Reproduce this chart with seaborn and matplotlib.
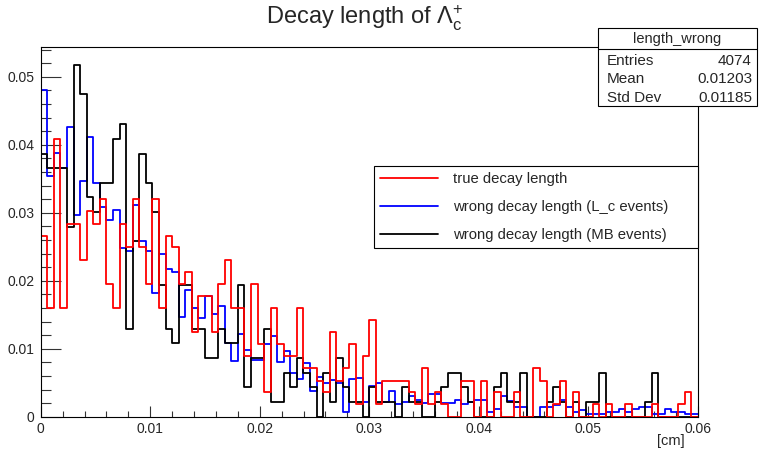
import numpy as np
import pandas as pd
import matplotlib
matplotlib.use('Agg')
import matplotlib.pyplot as plt
from matplotlib.lines import Line2D
from matplotlib.patches import Rectangle
from matplotlib.ticker import MultipleLocator, FuncFormatter
import seaborn as sns

# bin contents (normalised), 100 bins on [0, 0.06] cm
x_lo, x_hi, n_bins = 0.0, 0.06, 100

true_len = [0.0266, 0.0160, 0.0408, 0.0160, 0.0284, 0.0284, 0.0230, 0.0302, 0.0284, 0.0320,
            0.0195, 0.0160, 0.0284, 0.0249, 0.0320, 0.0249, 0.0195, 0.0320, 0.0160, 0.0266,
            0.0249, 0.0195, 0.0213, 0.0124, 0.0178, 0.0178, 0.0124, 0.0195, 0.0230, 0.0160,
            0.0160, 0.0089, 0.0195, 0.0107, 0.0036, 0.0160, 0.0107, 0.0089, 0.0089, 0.0160,
            0.0071, 0.0071, 0.0053, 0.0036, 0.0124, 0.0053, 0.0071, 0.0107, 0.0018, 0.0089,
            0.0142, 0.0018, 0.0053, 0.0053, 0.0053, 0.0053, 0.0036, 0.0018, 0.0071, 0.0018,
            0.0036, 0.0018, 0.0, 0.0, 0.0053, 0.0053, 0.0, 0.0053, 0.0, 0.0036,
            0.0, 0.0, 0.0036, 0.0, 0.0, 0.0071, 0.0053, 0.0, 0.0018, 0.0053,
            0.0, 0.0036, 0.0, 0.0, 0.0018, 0.0, 0.0018, 0.0, 0.0, 0.0018,
            0.0, 0.0, 0.0, 0.0018, 0.0, 0.0, 0.0, 0.0018, 0.0036, 0.0]

wrong_lc = [0.0480, 0.0354, 0.0388, 0.0366, 0.0426, 0.0297, 0.0346, 0.0412, 0.0343, 0.0309,
            0.0289, 0.0304, 0.0248, 0.0244, 0.0312, 0.0259, 0.0244, 0.0182, 0.0240, 0.0217,
            0.0213, 0.0147, 0.0186, 0.0160, 0.0145, 0.0178, 0.0151, 0.0163, 0.0108, 0.0082,
            0.0122, 0.0098, 0.0084, 0.0084, 0.0107, 0.0118, 0.0081, 0.0096, 0.0064, 0.0056,
            0.0079, 0.0038, 0.0058, 0.0049, 0.0054, 0.0050, 0.0007, 0.0056, 0.0057, 0.0022,
            0.0045, 0.0049, 0.0022, 0.0038, 0.0018, 0.0022, 0.0030, 0.0025, 0.0020, 0.0034,
            0.0034, 0.0020, 0.0020, 0.0025, 0.0019, 0.0022, 0.0025, 0.0025, 0.0007, 0.0011,
            0.0030, 0.0023, 0.0015, 0.0015, 0.0, 0.0, 0.0015, 0.0015, 0.0017, 0.0024,
            0.0015, 0.0007, 0.0010, 0.0004, 0.0004, 0.0004, 0.0007, 0.0007, 0.0011, 0.0007,
            0.0011, 0.0015, 0.0015, 0.0004, 0.0004, 0.0011, 0.0007, 0.0007, 0.0004, 0.0004]

wrong_mb = [0.0387, 0.0366, 0.0366, 0.0366, 0.0279, 0.0517, 0.0475, 0.0323, 0.0301, 0.0344,
            0.0344, 0.0409, 0.0430, 0.0129, 0.0258, 0.0387, 0.0344, 0.0301, 0.0194, 0.0129,
            0.0108, 0.0194, 0.0194, 0.0129, 0.0129, 0.0086, 0.0086, 0.0129, 0.0108, 0.0108,
            0.0194, 0.0043, 0.0086, 0.0086, 0.0129, 0.0022, 0.0022, 0.0065, 0.0043, 0.0086,
            0.0065, 0.0043, 0.0, 0.0065, 0.0022, 0.0086, 0.0043, 0.0022, 0.0022, 0.0,
            0.0043, 0.0022, 0.0022, 0.0022, 0.0, 0.0043, 0.0022, 0.0022, 0.0, 0.0,
            0.0022, 0.0043, 0.0065, 0.0065, 0.0043, 0.0022, 0.0, 0.0, 0.0, 0.0043,
            0.0065, 0.0022, 0.0022, 0.0065, 0.0, 0.0, 0.0, 0.0022, 0.0043, 0.0022,
            0.0, 0.0022, 0.0, 0.0022, 0.0022, 0.0065, 0.0, 0.0, 0.0, 0.0,
            0.0, 0.0, 0.0022, 0.0065, 0.0, 0.0, 0.0, 0.0, 0.0, 0.0]

labels = ['true decay length', 'wrong decay length (L_c events)', 'wrong decay length (MB events)']
stat_name = 'length_wrong'
stat_rows = [('Entries', '4074'), ('Mean', '0.01203'), ('Std Dev', '0.01185')]

sns.set_style('ticks')
plt.rcParams['font.family'] = ['Liberation Sans', 'DejaVu Sans']
plt.rcParams.update({'mathtext.fontset': 'custom',
                     'mathtext.rm': 'Liberation Sans',
                     'mathtext.it': 'Liberation Sans:italic'})

W, H = 760, 451
edges = np.linspace(x_lo, x_hi, n_bins + 1)
centers = 0.5 * (edges[1:] + edges[:-1])

fig = plt.figure(figsize=(W / 100, H / 100), dpi=100)
ax = fig.add_axes([40.7 / W, 1 - 416.7 / H, 657 / W, 369.7 / H])

for vals, col in [(wrong_lc, 'blue'), (wrong_mb, 'black'), (true_len, 'red')]:
    df = pd.DataFrame({'x': centers, 'w': vals})
    sns.histplot(data=df, x='x', weights='w', bins=n_bins, binrange=(x_lo, x_hi),
                 element='step', fill=False, color=col, linewidth=1.3, ax=ax)

ax.set_xlim(x_lo, x_hi)
ax.set_ylim(0, 0.05437)
ax.set_xlabel('')
ax.set_ylabel('')

fmt = FuncFormatter(lambda v, p: '%g' % round(v, 4))
ax.xaxis.set_major_locator(MultipleLocator(0.01))
ax.xaxis.set_minor_locator(MultipleLocator(0.002))
ax.yaxis.set_major_locator(MultipleLocator(0.01))
ax.yaxis.set_minor_locator(MultipleLocator(0.002))
ax.xaxis.set_major_formatter(fmt)
ax.yaxis.set_major_formatter(fmt)
ax.tick_params(axis='both', which='both', direction='in', width=0.8, color='#333333',
               labelsize=10, top=False, right=False)
ax.tick_params(axis='y', which='major', length=14.4, pad=4.5)
ax.tick_params(axis='y', which='minor', length=7.2)
ax.tick_params(axis='x', which='major', length=7.9, pad=3.5)
ax.tick_params(axis='x', which='minor', length=4)
for s in ax.spines.values():
    s.set_color('black')
    s.set_linewidth(0.8)

handles = [Line2D([], [], color=c, lw=1.3) for c in ['red', 'blue', 'black']]
leg = ax.legend(handles, labels, loc='center', bbox_to_anchor=(0.507, 0.453, 0.493, 0.228),
                mode='expand', fontsize=10.7, handlelength=3.9, handletextpad=1.0,
                labelspacing=0.92, borderpad=0.45, borderaxespad=0, fancybox=False,
                framealpha=1, edgecolor='black')
leg.get_frame().set_linewidth(0.8)

fig.text(365 / W, 1 - 18 / H, r'Decay length of $\Lambda_{\mathrm{c}}^{+}$',
         ha='center', va='center', fontsize=17)
fig.text(685 / W, 1 - 441 / H, '[cm]', ha='right', va='center', fontsize=10.5)

# stats box
bx0, bx1 = 598 / W, 757 / W
by_top, by_sep, by_bot = 1 - 28 / H, 1 - 49 / H, 1 - 106 / H
fig.add_artist(Rectangle((bx0, by_bot), bx1 - bx0, by_top - by_bot, transform=fig.transFigure,
                         facecolor='white', edgecolor='black', lw=0.8, zorder=5))
fig.add_artist(Line2D([bx0, bx1], [by_sep, by_sep], transform=fig.transFigure,
                      color='black', lw=0.8, zorder=6))
fig.text((bx0 + bx1) / 2, 1 - 39 / H, stat_name, ha='center', va='center', fontsize=10.5, zorder=7)
for i, (k, v) in enumerate(stat_rows):
    yy = 1 - (61 + 18.3 * i) / H
    fig.text(607 / W, yy, k, ha='left', va='center', fontsize=11, zorder=7)
    fig.text(752 / W, yy, v, ha='right', va='center', fontsize=11, zorder=7)

fig.savefig('out.png', dpi=100)
